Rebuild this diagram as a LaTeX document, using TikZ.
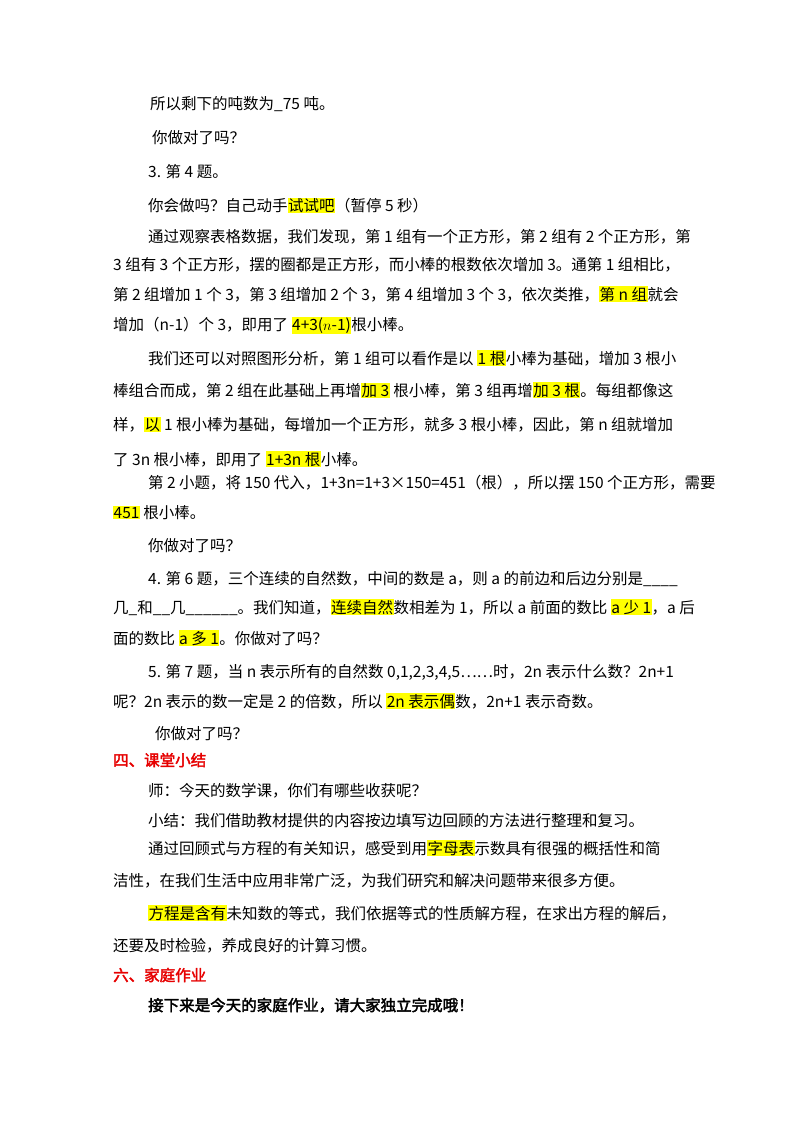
\documentclass[tikz,border=0pt]{standalone}
\usepackage{fontspec}
\setmainfont{Noto Sans CJK SC}
\newfontfamily\bcjk[FakeBold=2.5]{Noto Sans CJK SC}
\definecolor{hly}{RGB}{255,255,0}
\definecolor{redh}{RGB}{230,0,0}
\newcommand{\hl}[1]{{\setlength{\fboxsep}{0.5pt}\colorbox{hly}{#1}}}
\begin{document}
\begin{tikzpicture}[x=1pt,y=-1pt,
  ln/.style={anchor=base west,inner sep=0pt,font=\fontsize{15.5}{18}\selectfont},
  hd/.style={ln,text=redh,font=\fontsize{15.5}{18}\selectfont\bcjk}]
\useasboundingbox (0,0) rectangle (800,1132);
\node[ln] (l1) at (150,109) {所以剩下的吨数为\_75 吨。};
\node[ln] (l2) at (152,143) {你做对了吗？};
\node[ln] (l3) at (148,177) {3. 第 4 题。};
\node[ln] (l4) at (148,211) {你会做吗？自己动手\hl{试试吧}（暂停 5 秒）};
\node[ln] (l5) at (148,242) {通过观察表格数据，我们发现，第 1 组有一个正方形，第 2 组有 2 个正方形，第};
\node[ln] (l6) at (113,270) {3 组有 3 个正方形，摆的圈都是正方形，而小棒的根数依次增加 3。通第 1 组相比，};
\node[ln] (l7) at (113,300) {第 2 组增加 1 个 3，第 3 组增加 2 个 3，第 4 组增加 3 个 3，依次类推，\hl{第 n 组}就会};
\node[ln] (l8) at (113,330) {增加（n-1）个 3，即用了 \hl{4+3($n$-1)}根小棒。};
\node[ln] (l9) at (148,364) {我们还可以对照图形分析，第 1 组可以看作是以 \hl{1 根}小棒为基础，增加 3 根小};
\node[ln] (l10) at (113,396) {棒组合而成，第 2 组在此基础上再增\hl{加 3} 根小棒，第 3 组再增\hl{加 3 根}。每组都像这};
\node[ln] (l11) at (113,430) {样，\hl{以} 1 根小棒为基础，每增加一个正方形，就多 3 根小棒，因此，第 n 组就增加};
\node[ln] (l12) at (113,465) {了 3n 根小棒，即用了 \hl{1+3n 根}小棒。};
\node[ln] (l13) at (148,488) {第 2 小题，将 150 代入，1+3n=1+3×150=451（根），所以摆 150 个正方形，需要};
\node[ln] (l14) at (113,518) {\hl{451} 根小棒。};
\node[ln] (l15) at (148,551) {你做对了吗？};
\node[ln] (l16) at (113,584) {\hspace{35pt}4. 第 6 题，三个连续的自然数，中间的数是 a，则 a 的前边和后边分别是\_\_\_\_};
\node[ln] (l17) at (113,613) {几\_和\_\_几\_\_\_\_\_\_。我们知道，\hl{连续自然}数相差为 1，所以 a 前面的数比 \hl{a 少 1}，a 后};
\node[ln] (l18) at (113,644) {面的数比 \hl{a 多 1}。你做对了吗？};
\node[ln] (l19) at (148,677) {5. 第 7 题，当 n 表示所有的自然数 0,1,2,3,4,5……时，2n 表示什么数？2n+1};
\node[ln] (l20) at (113,707) {呢？2n 表示的数一定是 2 的倍数，所以 \hl{2n 表示偶}数，2n+1 表示奇数。};
\node[ln] (l21) at (155,739) {你做对了吗？};
\node[hd] (h1) at (113,766) {四、课堂小结};
\node[ln] (l22) at (148,796) {师：今天的数学课，你们有哪些收获呢？};
\node[ln] (l23) at (148,826) {小结：我们借助教材提供的内容按边填写边回顾的方法进行整理和复习。};
\node[ln] (l24) at (148,854) {通过回顾式与方程的有关知识，感受到用\hl{字母表}示数具有很强的概括性和简};
\node[ln] (l25) at (113,886) {洁性，在我们生活中应用非常广泛，为我们研究和解决问题带来很多方便。};
\node[ln] (l26) at (148,919) {\hl{方程是含有}未知数的等式，我们依据等式的性质解方程，在求出方程的解后，};
\node[ln] (l27) at (113,951) {还要及时检验，养成良好的计算习惯。};
\node[hd] (h2) at (113,981) {六、家庭作业};
\node[ln,font=\fontsize{15.5}{18}\selectfont\bcjk] (l28) at (148,1011) {接下来是今天的家庭作业，请大家独立完成哦！};
\end{tikzpicture}
\end{document}
